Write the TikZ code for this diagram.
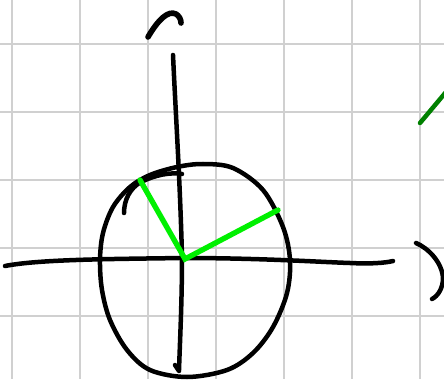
\documentclass[tikz,border=0pt]{standalone}
\begin{document}
\begin{tikzpicture}[x=0.025cm,y=-0.025cm,
  gridline/.style={draw={rgb,255:red,208;green,208;blue,208},line width=1.4pt},
  ink/.style={draw=black,line width=3.2pt,line cap=round,line join=round},
  greenink/.style={draw={rgb,255:red,0;green,240;blue,0},line width=3.8pt,line cap=round},
  darkgreenink/.style={draw={rgb,255:red,0;green,128;blue,0},line width=3.2pt,line cap=round}]
\useasboundingbox (0,0) rectangle (444,379);
\fill[white] (0,0) rectangle (444,379);
% grid
\foreach \x in {12.3,80.3,148.3,216.3,284.3,352.3,420.3}
  \draw[gridline] (\x,0) -- (\x,379);
\foreach \y in {43.7,112,180.3,248.3,315.7}
  \draw[gridline] (0,\y) -- (444,\y);
% horizontal axis
\draw[ink] (5,266) .. controls (40,259) and (120,259) .. (182,258)
  .. controls (260,258) and (320,262) .. (350,263) .. controls (370,264) and (385,263) .. (393,261);
% vertical axis
\draw[ink] (173,55) .. controls (176,120) and (180,180) .. (182,257)
  .. controls (182,300) and (180,340) .. (179,370);
\draw[ink] (175,365) -- (179,371);
% circle
\draw[ink] plot[smooth cycle,tension=0.55] coordinates {
  (203,164) (233,168) (263,190) (283,227) (290,260) (287,293) (273,327)
  (253,353) (227,370) (187,377) (150,370) (127,350) (110,320) (102,290)
  (100,260) (103,233) (113,207) (130,187) (150,175) (177,167)};
% overlapping stroke on upper-left arc
\draw[ink] (124,213) .. controls (124,200) and (130,188) .. (141,182)
  .. controls (155,175) and (170,172) .. (182,174);
% green radii
\draw[greenink] (140,180) -- (185,259) -- (278,210);
% dark green stroke at top right
\draw[darkgreenink] (420,123) -- (446,92);
% hook at top
\draw[ink,line width=4pt] (148,37) .. controls (158,20) and (168,10) .. (176,14) .. controls (179,16) and (181,19) .. (181,23);
% bracket at right
\draw[ink] (416,243) .. controls (428,248) and (442,262) .. (443,278) .. controls (443,288) and (438,296) .. (432,299);
\end{tikzpicture}
\end{document}
